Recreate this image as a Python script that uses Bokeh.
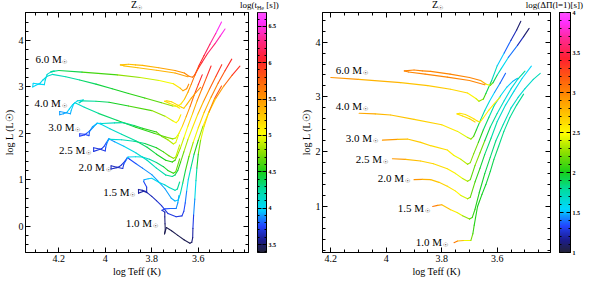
import numpy as np
from bokeh.plotting import figure
from bokeh.models import (ColumnDataSource, LinearColorMapper, LinearAxis,
                          Range1d, Label, FixedTicker, CustomJSTickFormatter, Div)
from bokeh.layouts import row, column
from bokeh.embed import file_html
from bokeh.resources import INLINE

# ---------------- colour scales ----------------
tHe_range = [3.39, 6.69]
tHe_ticks = [3.5, 4.0, 4.5, 5.0, 5.5, 6.0, 6.5]
dP_range = [1.0, 4.0]
dP_ticks = [1.0, 1.5, 2.0, 2.5, 3.0, 3.5, 4.0]

# ---------------- labels ----------------
mass_names = ["6.0", "4.0", "3.0", "2.5", "2.0", "1.5", "1.0"]
left_label_T = [4.300, 4.304, 4.245, 4.199, 4.115, 4.009, 3.912]
left_label_L = [3.600, 2.655, 2.130, 1.647, 1.264, 0.740, 0.075]
right_label_T = [4.182, 4.182, 4.146, 4.110, 4.031, 3.959, 3.894]
right_label_L = [3.487, 2.830, 2.257, 1.858, 1.515, 0.966, 0.348]

# ---------------- tracks: pre-MS + MS (left panel only) ----------------
m60_pre_T = [3.500, 3.525, 3.550, 3.575, 3.598, 3.615, 3.630, 3.645, 3.660, 3.675, 3.690,
             3.710, 3.758, 3.830, 3.900, 3.970, 4.040, 4.110, 4.170, 4.228,
             4.250, 4.268, 4.280,
             4.300, 4.312, 4.310, 4.285, 4.262,
             4.258, 4.250, 4.235, 4.220, 4.232]
m60_pre_L = [4.400, 4.150, 3.920, 3.680, 3.450, 3.250, 3.060, 2.880, 2.730, 2.630, 2.585,
             2.590, 2.660, 2.760, 2.860, 2.960, 3.060, 3.150, 3.220, 3.270,
             3.230, 3.150, 3.080,
             3.030, 3.000, 3.080, 3.060, 3.050,
             3.150, 3.270, 3.320, 3.340, 3.330]
m60_pre_tHe = [6.60, 6.45, 6.25, 6.10, 5.95, 5.75, 5.60, 5.45, 5.25, 5.10, 4.95,
               4.85, 4.70, 4.60, 4.50, 4.45, 4.40, 4.30, 4.20, 4.15,
               4.10, 4.05, 4.00,
               4.00, 4.00, 4.00, 4.00, 4.00,
               4.05, 4.10, 4.15, 4.20, 4.25]

m40_pre_T = [3.583, 3.600, 3.618, 3.635, 3.652, 3.668, 3.683, 3.697, 3.710,
             3.740, 3.790, 3.869, 3.950, 4.030, 4.090, 4.130,
             4.140, 4.155, 4.165,
             4.180, 4.196, 4.196, 4.175, 4.150,
             4.146, 4.135, 4.120, 4.095, 4.112]
m40_pre_L = [3.260, 3.050, 2.820, 2.580, 2.360, 2.160, 2.000, 1.900, 1.880,
             1.920, 2.000, 2.130, 2.280, 2.430, 2.560, 2.660,
             2.620, 2.520, 2.450,
             2.420, 2.400, 2.470, 2.450, 2.420,
             2.500, 2.640, 2.700, 2.720, 2.660]
m40_pre_tHe = [6.10, 5.95, 5.80, 5.60, 5.40, 5.20, 5.05, 4.90, 4.80,
               4.70, 4.60, 4.50, 4.40, 4.30, 4.20, 4.10,
               4.05, 4.00, 3.95,
               3.90, 3.90, 3.90, 3.90, 3.90,
               3.95, 4.00, 4.05, 4.10, 4.15]

m30_pre_T = [3.545, 3.565, 3.585, 3.605, 3.625, 3.645, 3.662, 3.677, 3.690, 3.700, 3.712,
             3.740, 3.780, 3.820, 3.869, 3.930, 3.980, 4.020, 4.035,
             4.050, 4.065, 4.080,
             4.090, 4.110, 4.110, 4.090, 4.070,
             4.067, 4.055, 4.035, 4.020]
m30_pre_L = [3.450, 3.200, 2.950, 2.700, 2.420, 2.150, 1.900, 1.680, 1.520, 1.420, 1.380,
             1.420, 1.550, 1.700, 1.840, 1.980, 2.100, 2.200, 2.220,
             2.140, 2.060, 2.000,
             1.965, 1.940, 1.990, 1.980, 1.950,
             2.050, 2.140, 2.210, 2.215]
m30_pre_tHe = [6.10, 5.90, 5.70, 5.50, 5.30, 5.10, 4.95, 4.85, 4.75, 4.65, 4.55,
               4.50, 4.45, 4.40, 4.30, 4.20, 4.10, 4.00, 3.95,
               3.90, 3.85, 3.80,
               3.75, 3.75, 3.75, 3.75, 3.75,
               3.85, 3.90, 3.95, 4.00]

m25_pre_T = [3.499, 3.525, 3.552, 3.578, 3.603, 3.625, 3.645, 3.662, 3.676, 3.688, 3.700, 3.712,
             3.740, 3.780, 3.820, 3.869, 3.920, 3.960, 3.985,
             3.995, 4.005, 4.015,
             4.025, 4.050, 4.050, 4.025, 4.000,
             3.998, 3.992, 3.983]
m25_pre_L = [3.480, 3.220, 2.950, 2.680, 2.400, 2.120, 1.860, 1.600, 1.380, 1.200, 1.100, 1.070,
             1.100, 1.250, 1.420, 1.580, 1.720, 1.820, 1.880,
             1.800, 1.720, 1.670,
             1.650, 1.610, 1.690, 1.660, 1.620,
             1.700, 1.800, 1.880]
m25_pre_tHe = [6.05, 5.85, 5.65, 5.45, 5.25, 5.05, 4.90, 4.75, 4.60, 4.45, 4.35, 4.30,
               4.25, 4.20, 4.15, 4.10, 4.00, 3.90, 3.85,
               3.80, 3.75, 3.70,
               3.70, 3.70, 3.70, 3.70, 3.70,
               3.80, 3.85, 3.95]

m20_pre_T = [3.456, 3.485, 3.515, 3.545, 3.575, 3.600, 3.622, 3.640, 3.655, 3.667, 3.677, 3.686, 3.700,
             3.716, 3.744, 3.775, 3.800, 3.840, 3.869, 3.895, 3.905,
             3.915, 3.930, 3.940,
             3.950, 3.975, 3.975, 3.950, 3.925,
             3.920, 3.908, 3.903]
m20_pre_L = [3.600, 3.350, 3.080, 2.780, 2.450, 2.120, 1.800, 1.500, 1.200, 0.920, 0.700, 0.560, 0.540,
             0.600, 0.810, 0.980, 1.110, 1.250, 1.350, 1.440, 1.480,
             1.400, 1.320, 1.280,
             1.260, 1.230, 1.300, 1.270, 1.240,
             1.340, 1.440, 1.480]
m20_pre_tHe = [6.10, 5.90, 5.70, 5.50, 5.30, 5.10, 4.90, 4.70, 4.50, 4.30, 4.15, 4.00, 3.95,
               3.90, 3.90, 3.90, 3.90, 3.85, 3.80, 3.75, 3.75,
               3.70, 3.70, 3.65,
               3.65, 3.65, 3.65, 3.65, 3.65,
               3.75, 3.85, 3.95]

m15_pre_T = [3.421, 3.455, 3.490, 3.525, 3.555, 3.580, 3.600, 3.618, 3.632, 3.643, 3.650, 3.656, 3.662, 3.670,
             3.695, 3.730, 3.758, 3.780, 3.800, 3.820,
             3.835, 3.857, 3.857, 3.840, 3.822,
             3.822, 3.835]
m15_pre_L = [3.450, 3.250, 3.020, 2.750, 2.450, 2.150, 1.850, 1.550, 1.250, 1.000, 0.750, 0.500, 0.320, 0.220,
             0.200, 0.270, 0.440, 0.550, 0.640, 0.720,
             0.750, 0.710, 0.790, 0.770, 0.740,
             0.840, 0.960]
m15_pre_tHe = [6.10, 5.85, 5.60, 5.35, 5.10, 4.90, 4.65, 4.40, 4.20, 4.05, 3.90, 3.80, 3.75, 3.70,
               3.70, 3.70, 3.70, 3.65, 3.65, 3.60,
               3.60, 3.60, 3.60, 3.60, 3.60,
               3.70, 3.80]

m10_pre_T = [3.500, 3.530, 3.555, 3.575, 3.590, 3.600, 3.606, 3.610, 3.615, 3.620, 3.623, 3.624, 3.628, 3.636,
             3.660, 3.688, 3.715, 3.737,
             3.745, 3.742,
             3.743, 3.744, 3.744]
m10_pre_L = [3.020, 2.750, 2.450, 2.150, 1.850, 1.550, 1.250, 0.980, 0.580, 0.240, -0.050, -0.250, -0.350, -0.370,
             -0.300, -0.200, -0.100, -0.030,
             -0.170, -0.080,
             0.050, 0.200, 0.300]
m10_pre_tHe = [5.95, 5.70, 5.40, 5.10, 4.85, 4.60, 4.35, 4.15, 3.95, 3.80, 3.65, 3.55, 3.50, 3.45,
               3.45, 3.45, 3.45, 3.45,
               3.45, 3.45,
               3.50, 3.55, 3.60]

# ---------------- tracks: post-MS (both panels) ----------------
m60_post_T = [4.200, 4.100, 3.948, 3.850, 3.768, 3.707, 3.677, 3.666, 3.650, 3.641, 3.620, 3.600, 3.575, 3.551, 3.530, 3.515]
m60_post_L = [3.355, 3.320, 3.260, 3.205, 3.140, 3.070, 2.970, 2.920, 2.960, 3.060, 3.300, 3.570, 3.800, 4.030, 4.220, 4.380]
m60_post_dP = [3.00, 2.85, 2.75, 2.70, 2.70, 2.60, 2.45, 2.35, 2.20, 2.00, 1.80, 1.60, 1.45, 1.30, 1.15, 1.05]
m60_post_tHe = [4.30, 4.50, 4.70, 4.85, 4.95, 5.05, 5.25, 5.45, 5.50, 5.60]

m60_loop_T = [3.645, 3.700, 3.780, 3.860, 3.920, 3.935, 3.900, 3.870, 3.840, 3.770, 3.700, 3.660, 3.640, 3.625,
              3.615, 3.600, 3.585, 3.560, 3.527, 3.505, 3.485]
m60_loop_L = [3.220, 3.300, 3.360, 3.415, 3.455, 3.475, 3.490, 3.475, 3.465, 3.415, 3.355, 3.300, 3.230, 3.210,
              3.260, 3.400, 3.520, 3.720, 3.940, 4.100, 4.250]
m60_loop_dP = [3.00, 3.00, 3.00, 3.00, 3.00, 3.00, 3.00, 3.00, 3.00, 3.00, 3.00, 3.00, 2.60, 2.30,
               2.00, 1.80, 1.65, 1.50, 1.30, 1.15, 1.05]
m60_loop_tHe = [5.50, 5.40, 5.35, 5.30, 5.30, 5.30, 5.30, 5.30, 5.35, 5.40, 5.50, 5.55, 5.60, 5.65,
                5.75, 5.90, 6.00, 6.15, 6.30, 6.45, 6.55]

m40_post_T = [4.098, 4.040, 3.984, 3.900, 3.800, 3.743, 3.707, 3.695, 3.685, 3.675, 3.660, 3.645, 3.628, 3.610, 3.590, 3.570]
m40_post_L = [2.700, 2.690, 2.670, 2.590, 2.490, 2.370, 2.260, 2.230, 2.280, 2.400, 2.580, 2.750, 2.920, 3.080, 3.250, 3.430]
m40_post_dP = [2.90, 2.80, 2.75, 2.70, 2.65, 2.50, 2.35, 2.30, 2.15, 2.00, 1.85, 1.70, 1.60, 1.50, 1.40, 1.35]
m40_post_tHe = [4.20, 4.30, 4.40, 4.55, 4.70, 4.85, 5.00, 5.05, 5.10, 5.15]

m40_loop_T = [3.680, 3.700, 3.725, 3.745, 3.735, 3.715, 3.700, 3.685, 3.672, 3.662, 3.650, 3.630, 3.610, 3.590]
m40_loop_L = [2.540, 2.600, 2.650, 2.690, 2.700, 2.680, 2.640, 2.600, 2.560, 2.540, 2.620, 2.760, 2.880, 2.990]
m40_loop_dP = [2.70, 2.65, 2.60, 2.60, 2.60, 2.60, 2.60, 2.60, 2.60, 2.55, 2.55, 2.55, 2.55, 2.55]
m40_loop_tHe = [5.10, 5.10, 5.15, 5.20, 5.20, 5.20, 5.20, 5.20, 5.20, 5.25, 5.30, 5.40, 5.50, 5.60]

m30_post_T = [4.014, 3.960, 3.924, 3.876, 3.840, 3.780, 3.756, 3.731, 3.707, 3.697, 3.685, 3.668, 3.650, 3.630,
              3.610, 3.588, 3.565, 3.545, 3.527]
m30_post_L = [2.210, 2.225, 2.230, 2.170, 2.110, 2.030, 1.930, 1.860, 1.770, 1.800, 1.960, 2.170, 2.400, 2.630,
              2.850, 3.020, 3.180, 3.280, 3.340]
m30_post_dP = [3.00, 2.80, 2.70, 2.70, 2.65, 2.60, 2.50, 2.40, 2.30, 2.20, 2.30, 2.10, 1.95, 1.80,
               1.70, 1.60, 1.55, 1.50, 1.50]
m30_post_tHe = [4.10, 4.20, 4.25, 4.35, 4.45, 4.60, 4.70, 4.80, 4.90, 4.95, 5.00]

m25_post_T = [3.978, 3.930, 3.876, 3.830, 3.780, 3.750, 3.725, 3.707, 3.697, 3.680, 3.662, 3.645, 3.625, 3.600,
              3.575, 3.550, 3.525, 3.500]
m25_post_L = [1.870, 1.860, 1.830, 1.780, 1.690, 1.600, 1.510, 1.460, 1.490, 1.750, 1.980, 2.200, 2.450, 2.700,
              2.930, 3.150, 3.330, 3.470]
m25_post_dP = [3.00, 2.80, 2.70, 2.65, 2.60, 2.50, 2.40, 2.30, 2.20, 2.10, 2.40, 2.00, 1.85, 1.75,
               1.65, 1.60, 1.70, 1.90]
m25_post_tHe = [4.05, 4.15, 4.25, 4.35, 4.50, 4.60, 4.70, 4.80, 4.85, 4.95]

m20_post_T = [3.900, 3.870, 3.840, 3.810, 3.780, 3.750, 3.731, 3.707, 3.697, 3.680, 3.662, 3.645, 3.622, 3.600,
              3.570, 3.540, 3.510, 3.477]
m20_post_L = [1.490, 1.495, 1.490, 1.440, 1.370, 1.280, 1.200, 1.140, 1.170, 1.450, 1.700, 1.950, 2.250, 2.550,
              2.850, 3.100, 3.340, 3.560]
m20_post_dP = [3.00, 2.85, 2.75, 2.70, 2.65, 2.55, 2.45, 2.35, 2.20, 2.10, 2.00, 1.90, 1.80, 1.70,
               1.65, 1.60, 1.55, 1.55]
m20_post_tHe = [4.00, 4.05, 4.10, 4.20, 4.30, 4.40, 4.50, 4.60, 4.65, 4.75]

m15_post_T = [3.833, 3.815, 3.800, 3.768, 3.745, 3.725, 3.700, 3.690, 3.680, 3.665, 3.645, 3.625, 3.605, 3.578,
              3.550, 3.525, 3.500, 3.470, 3.445]
m15_post_L = [1.000, 1.020, 1.030, 0.940, 0.890, 0.830, 0.770, 0.800, 0.950, 1.250, 1.600, 1.900, 2.200, 2.500,
              2.800, 2.990, 3.150, 3.320, 3.430]
m15_post_dP = [3.10, 3.00, 2.80, 2.65, 2.50, 2.35, 2.20, 2.10, 2.05, 2.00, 1.95, 1.90, 1.80, 1.75,
               1.70, 1.65, 1.65, 1.70, 1.75]
m15_post_tHe = [3.90, 3.95, 4.00, 4.05, 4.10, 4.15, 4.20, 4.25, 4.30]

m10_post_T = [3.756, 3.743, 3.720, 3.695, 3.688, 3.683, 3.671, 3.655, 3.641, 3.625, 3.612, 3.595, 3.576, 3.555,
              3.530, 3.505]
m10_post_L = [0.340, 0.370, 0.380, 0.380, 0.500, 0.660, 1.000, 1.220, 1.400, 1.640, 1.860, 2.100, 2.370, 2.620,
              2.850, 3.050]
m10_post_dP = [3.10, 3.00, 2.60, 2.30, 2.10, 2.05, 2.00, 2.00, 1.95, 1.95, 1.90, 1.85, 1.80, 1.80,
               1.80, 1.80]
m10_post_tHe = [3.70, 3.75, 3.80, 3.85, 3.90, 3.95]

# ---------------- styling / layout ----------------
FONT = "Liberation Serif"
TITLE_H = 9
H = 281 - TITLE_H
BORDER_TOP, BORDER_BOTTOM = 3, 29
left_xr, left_yr = (4.343, 3.384), (-0.57, 4.605)
right_xr, right_yr = (4.230, 3.408), (0.16, 4.54)

anchors = [(0.00, "#22223a"), (0.05, "#1c1c8c"), (0.11, "#2244ff"), (0.18, "#00d8ff"),
           (0.26, "#00dca0"), (0.335, "#18d018"), (0.42, "#90e000"), (0.495, "#ffff00"),
           (0.57, "#ffc800"), (0.65, "#ff9000"), (0.73, "#ff5a10"), (0.81, "#ff2030"),
           (0.89, "#ff2890"), (0.96, "#ff30ff"), (1.00, "#ff50ff")]


def make_palette(n=256):
    pos = np.array([a[0] for a in anchors])
    rgb = np.array([[int(a[1][i:i + 2], 16) for i in (1, 3, 5)] for a in anchors], float)
    out = []
    for v in np.linspace(0, 1, n):
        r, g, b = (np.interp(v, pos, rgb[:, k]) for k in range(3))
        out.append("#%02x%02x%02x" % (int(round(r)), int(round(g)), int(round(b))))
    return out


PALETTE = make_palette()
left_mapper = LinearColorMapper(palette=PALETTE, low=tHe_range[0], high=tHe_range[1])
right_mapper = LinearColorMapper(palette=PALETTE, low=dP_range[0], high=dP_range[1])

fmt_js = "return String(Math.round(tick*100)/100);"


def seg_source(T, L, C):
    n = len(C)
    T = np.asarray(T[:n], float)
    L = np.asarray(L[:n], float)
    C = np.asarray(C, float)
    return ColumnDataSource(dict(x0=T[:-1], y0=L[:-1], x1=T[1:], y1=L[1:], c=0.5 * (C[:-1] + C[1:])))


def ticks_between(a, b, step):
    lo, hi = min(a, b), max(a, b)
    k0 = int(np.ceil(lo / step - 1e-9))
    k1 = int(np.floor(hi / step + 1e-9))
    return [round(k * step, 4) for k in range(k0, k1 + 1)]


def style_axis(ax, ticker, labelled, size="10px", major_in=5, minor_in=3):
    ax.ticker = ticker
    ax.major_tick_in = major_in
    ax.major_tick_out = 0
    ax.minor_tick_in = minor_in
    ax.minor_tick_out = 0
    ax.axis_line_color = "black"
    ax.major_tick_line_color = "black"
    ax.minor_tick_line_color = "black"
    if labelled:
        ax.formatter = CustomJSTickFormatter(code=fmt_js)
        ax.major_label_text_font = FONT
        ax.major_label_text_color = "black"
        ax.major_label_text_font_size = size
        ax.major_label_standoff = 2
        ax.axis_label_text_font = FONT
        ax.axis_label_text_font_style = "normal"
        ax.axis_label_text_font_size = "10px"
        ax.axis_label_text_color = "black"
        ax.axis_label_standoff = 1
    else:
        ax.formatter = CustomJSTickFormatter(code="return '';")
        ax.major_label_text_color = None
        ax.major_label_text_font_size = "1px"
        ax.major_label_standoff = 0


def base_figure(width, xr, yr, min_left, min_right):
    p = figure(width=width, height=H, x_range=Range1d(*xr), y_range=Range1d(*yr),
               output_backend="svg", toolbar_location=None,
               min_border_left=min_left, min_border_right=min_right,
               min_border_top=BORDER_TOP, min_border_bottom=BORDER_BOTTOM)
    p.xgrid.visible = False
    p.ygrid.visible = False
    p.outline_line_color = "black"
    p.outline_line_width = 1
    p.background_fill_color = "white"
    p.border_fill_color = "white"
    xt = FixedTicker(ticks=[4.2, 4.0, 3.8, 3.6], minor_ticks=ticks_between(xr[0], xr[1], 0.05))
    yt = FixedTicker(ticks=ticks_between(yr[0], yr[1], 1.0), minor_ticks=ticks_between(yr[0], yr[1], 0.2))
    bottom = p.below[0]
    left = p.left[0]
    top = LinearAxis()
    right = LinearAxis()
    p.add_layout(top, "above")
    p.add_layout(right, "right")
    style_axis(bottom, xt, True)
    style_axis(left, yt, True)
    style_axis(top, xt, False)
    style_axis(right, yt, False)
    bottom.axis_label = "log Teff (K)"
    left.axis_label = "log L (L\u2609)"
    return p


def colorbar_figure(width, mapper, ticks, gap, bar_w):
    lo, hi = mapper.low, mapper.high
    p = figure(width=width, height=H, x_range=Range1d(0, 1), y_range=Range1d(lo, hi),
               output_backend="svg", toolbar_location=None,
               x_axis_location=None, y_axis_location="right",
               min_border_left=gap, min_border_right=width - gap - bar_w,
               min_border_top=BORDER_TOP, min_border_bottom=BORDER_BOTTOM)
    p.xgrid.visible = False
    p.ygrid.visible = False
    p.outline_line_color = "black"
    p.border_fill_color = "white"
    gradient = np.linspace(lo, hi, 512).reshape(-1, 1)
    p.image(image=[gradient], x=0, y=lo, dw=1, dh=hi - lo, color_mapper=mapper)
    t = FixedTicker(ticks=ticks, minor_ticks=ticks_between(lo, hi, 0.1))
    ax = p.right[0]
    style_axis(ax, t, True, size="6px", major_in=4, minor_in=2)
    ax.major_label_text_font_style = "bold"
    ax.major_label_standoff = 2
    mirror = LinearAxis()
    p.add_layout(mirror, "left")
    style_axis(mirror, t, False, major_in=4, minor_in=2)
    return p


def draw_track(p, T, L, C, mapper):
    p.segment("x0", "y0", "x1", "y1", source=seg_source(T, L, C),
              line_color={"field": "c", "transform": mapper}, line_width=1.1, line_cap="round")


def add_mass_labels(p, Ts, Ls):
    for name, T, L in zip(mass_names, Ts, Ls):
        p.add_layout(Label(x=T, y=L, text=f"{name} M", text_font=FONT, text_font_size="11px",
                           text_baseline="middle", text_color="black"))
        p.add_layout(Label(x=T, y=L, text="\u2609", text_font_size="6px", x_offset=27, y_offset=-3,
                           text_baseline="middle", text_color="black"))


# ---------------- left panel ----------------
p1 = base_figure(250, left_xr, left_yr, 22, 2)
pre = [(m60_pre_T, m60_pre_L, m60_pre_tHe, m60_post_T, m60_post_L, m60_post_tHe),
       (m40_pre_T, m40_pre_L, m40_pre_tHe, m40_post_T, m40_post_L, m40_post_tHe),
       (m30_pre_T, m30_pre_L, m30_pre_tHe, m30_post_T, m30_post_L, m30_post_tHe),
       (m25_pre_T, m25_pre_L, m25_pre_tHe, m25_post_T, m25_post_L, m25_post_tHe),
       (m20_pre_T, m20_pre_L, m20_pre_tHe, m20_post_T, m20_post_L, m20_post_tHe),
       (m15_pre_T, m15_pre_L, m15_pre_tHe, m15_post_T, m15_post_L, m15_post_tHe),
       (m10_pre_T, m10_pre_L, m10_pre_tHe, m10_post_T, m10_post_L, m10_post_tHe)]
for pT, pL, pC, qT, qL, qC in pre:
    n = len(qC)
    draw_track(p1, list(pT) + list(qT[:n]), list(pL) + list(qL[:n]), list(pC) + list(qC), left_mapper)
draw_track(p1, m60_loop_T, m60_loop_L, m60_loop_tHe, left_mapper)
draw_track(p1, m40_loop_T, m40_loop_L, m40_loop_tHe, left_mapper)
add_mass_labels(p1, left_label_T, left_label_L)
cb1 = colorbar_figure(30, left_mapper, tHe_ticks, 7, 9)

# ---------------- right panel ----------------
p2 = base_figure(272, right_xr, right_yr, 42, 2)
post = [(m60_post_T, m60_post_L, m60_post_dP), (m40_post_T, m40_post_L, m40_post_dP),
        (m30_post_T, m30_post_L, m30_post_dP), (m25_post_T, m25_post_L, m25_post_dP),
        (m20_post_T, m20_post_L, m20_post_dP), (m15_post_T, m15_post_L, m15_post_dP),
        (m10_post_T, m10_post_L, m10_post_dP)]
for T, L, C in post:
    draw_track(p2, T, L, C, right_mapper)
draw_track(p2, m60_loop_T, m60_loop_L, m60_loop_dP, right_mapper)
draw_track(p2, m40_loop_T, m40_loop_L, m40_loop_dP, right_mapper)
add_mass_labels(p2, right_label_T, right_label_L)
cb2 = colorbar_figure(31, right_mapper, dP_ticks, 7, 12)

# ---------------- titles (HTML strip above the panels) ----------------
SPAN = "font-family:'Liberation Serif';color:black;white-space:nowrap;"
SUB = "font-size:6px;vertical-align:-2px;line-height:0;"


def title_div(html, width, align="left"):
    return Div(text=html, width=width, height=TITLE_H, margin=0,
               styles={"overflow": "visible", "line-height": "9px", "text-align": align})


d1 = title_div(f'<span style="{SPAN}font-size:10px;margin-left:131px;">Z<span style="{SUB}">\u2609</span></span>', 240)
d2 = title_div(f'<span style="{SPAN}font-size:9px;">log(t<span style="{SUB}">He</span> [s])</span>', 60)
d3 = title_div(f'<span style="{SPAN}font-size:10px;margin-left:132px;">Z<span style="{SUB}">\u2609</span></span>', 220)
d4 = title_div(f'<span style="{SPAN}font-size:9px;">log(\u0394\u03a0(l=1)[s])</span>', 63, "right")

layout = column(row(d1, d2, d3, d4), row(p1, cb1, p2, cb2))
open("out.html", "w").write(file_html(layout, INLINE))
